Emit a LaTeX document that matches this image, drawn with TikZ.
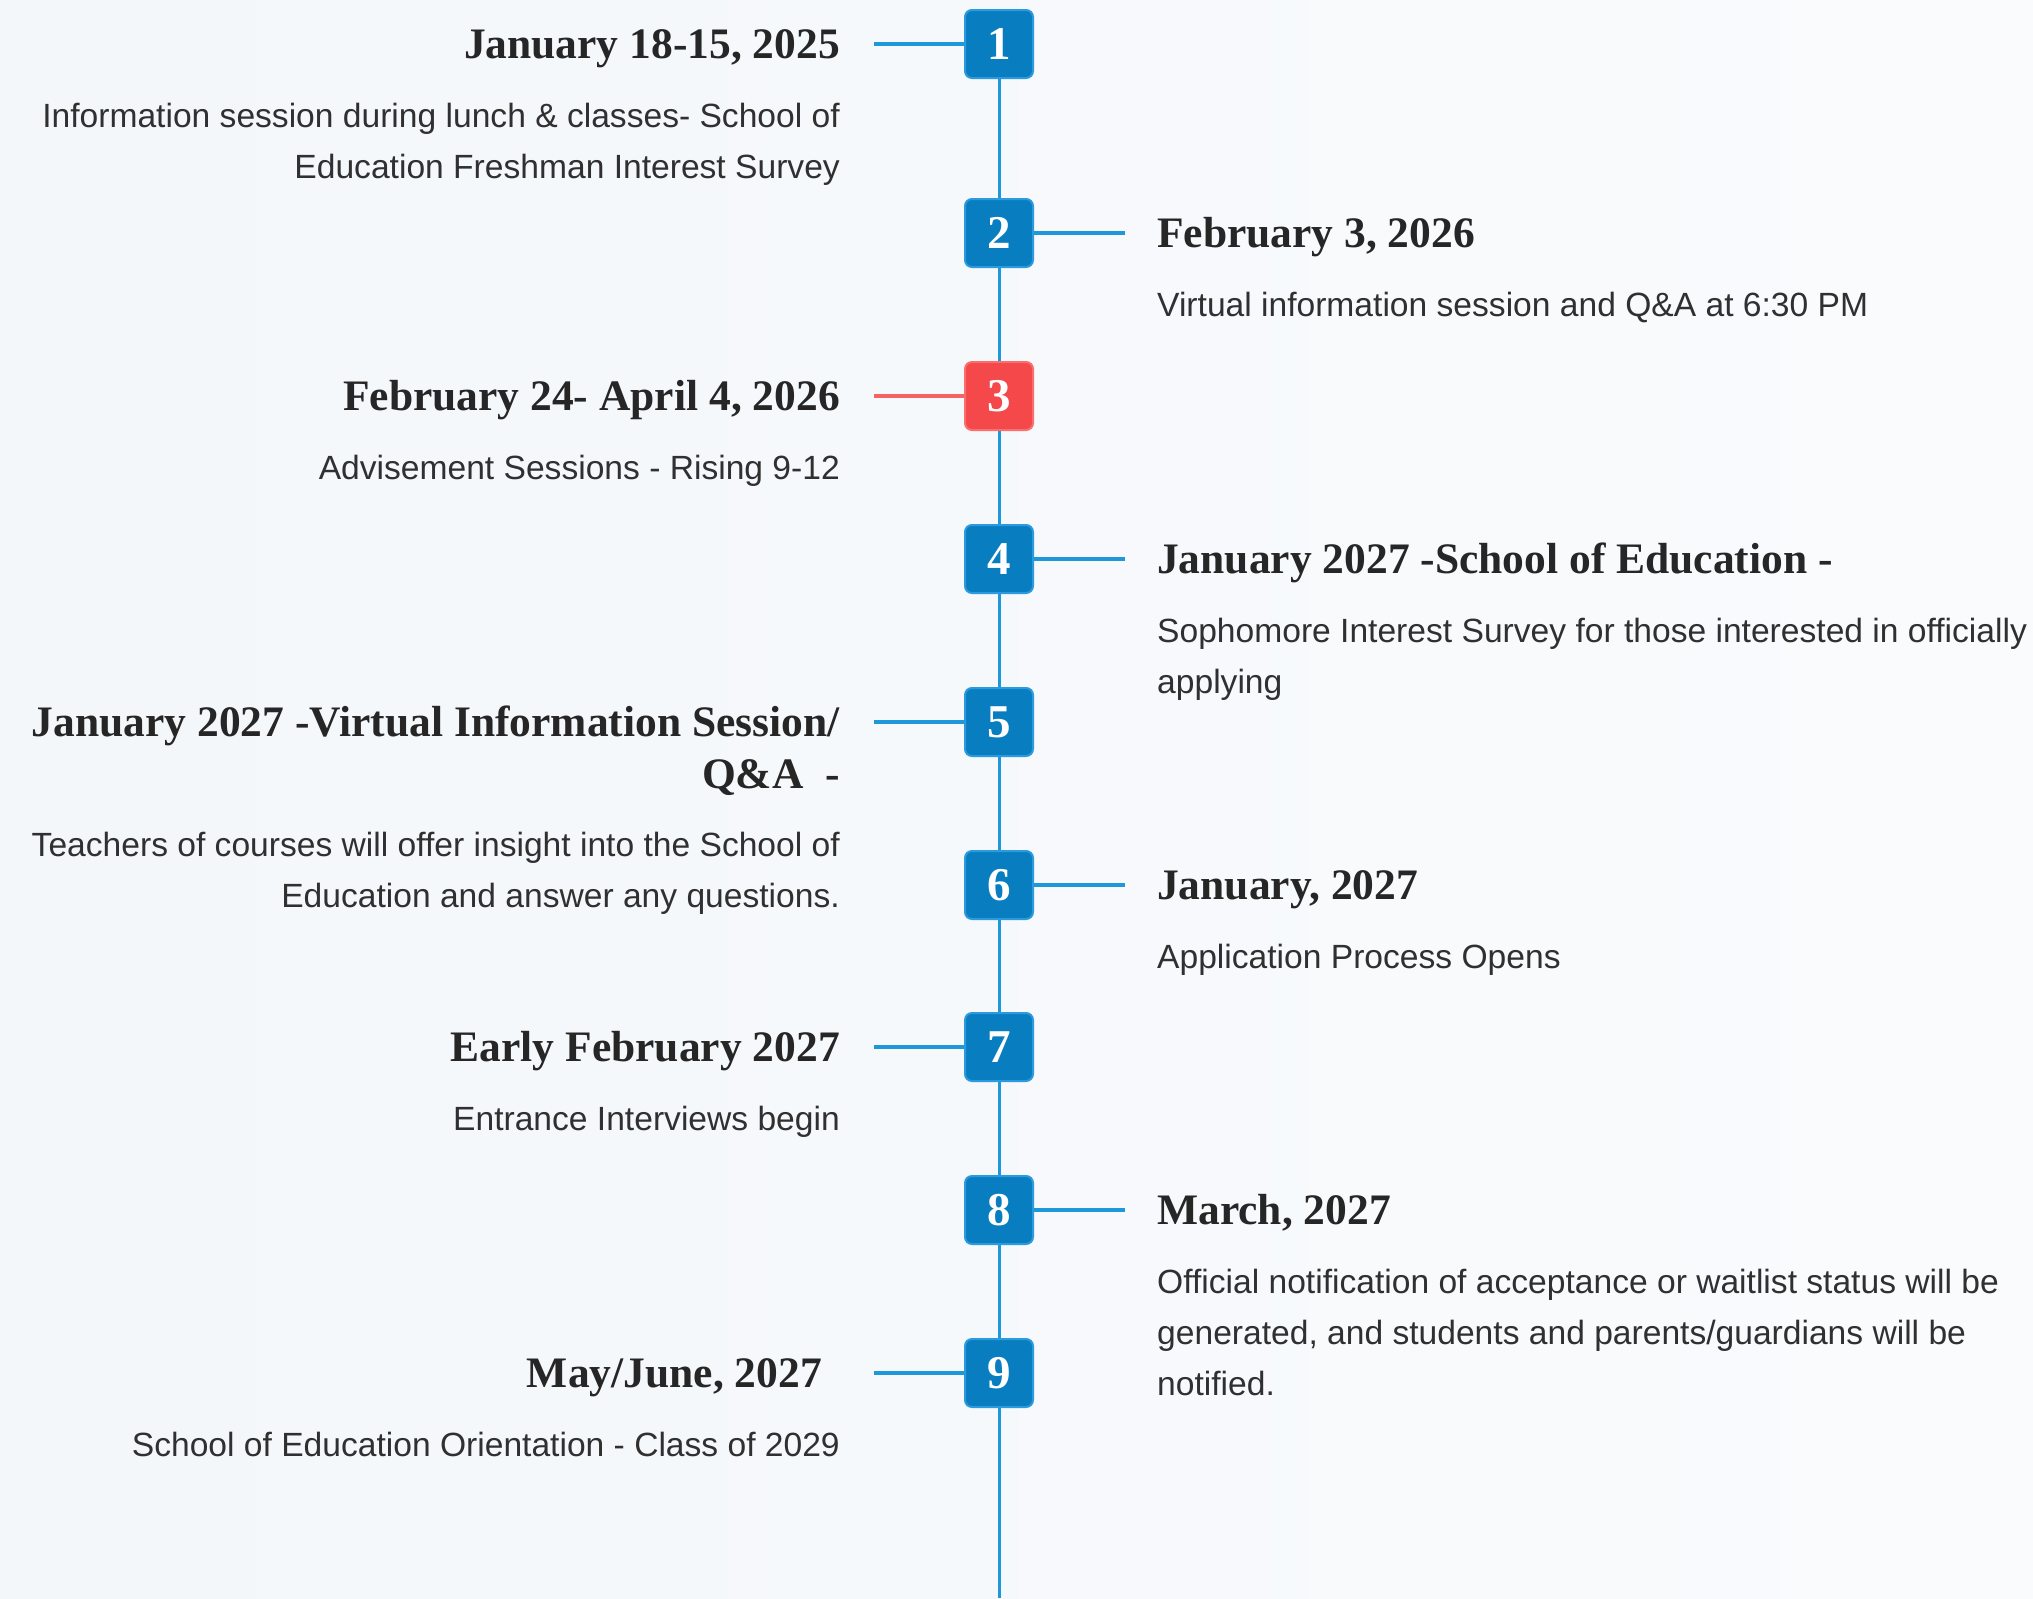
\documentclass[tikz,border=0pt]{standalone}
\usepackage{fontspec}
\setmainfont{Liberation Serif}
\newfontfamily\datafont{Liberation Serif}
\newfontfamily\textofont{Liberation Sans}
\usepackage{tikz}

\definecolor{azul}{RGB}{8,126,192}
\definecolor{azulborda}{RGB}{44,154,222}
\definecolor{linha}{RGB}{30,152,218}
\definecolor{vermelho}{RGB}{244,72,74}
\definecolor{vermelhoborda}{RGB}{250,110,110}
\definecolor{cinzatitulo}{RGB}{38,38,38}
\definecolor{cinzatexto}{RGB}{48,48,48}
\definecolor{fundoA}{RGB}{243,247,250}
\definecolor{fundoB}{RGB}{250,251,253}

\newcommand{\tstrut}{\rule{0pt}{35pt}}
\newcommand{\bstrut}{\rule{0pt}{27pt}}

\tikzset{
  stepbox/.style={rectangle, rounded corners=7pt, minimum size=68pt, inner sep=0pt,
    fill=azul, draw=azulborda, line width=2pt, text=white,
    font=\datafont\bfseries\fontsize{47}{47}\selectfont},
  redbox/.style={stepbox, fill=vermelho, draw=vermelhoborda},
  datetext/.style={inner sep=0pt, text=cinzatitulo,
    font=\datafont\bfseries\fontsize{43.5}{52}\selectfont},
  infotext/.style={inner sep=0pt, text=cinzatexto,
    font=\textofont\fontsize{33.6}{51}\selectfont},
  tick/.style={draw=linha, line width=3.5pt},
  redtick/.style={draw=vermelho!85, line width=3.5pt},
}

\begin{document}
\begin{tikzpicture}[x=1pt, y=-1pt]
    % Fundo
    \shade[left color=fundoA, right color=fundoB] (0,0) rectangle (2033,1598);
    \useasboundingbox (0,0) rectangle (2033,1598);

    % Marcos numerados
    \node[stepbox] (n1) at (999,44) {1};
    \node[stepbox] (n2) at (999,233) {2};
    \node[redbox]  (n3) at (999,396) {3};
    \node[stepbox] (n4) at (999,559) {4};
    \node[stepbox] (n5) at (999,722) {5};
    \node[stepbox] (n6) at (999,885) {6};
    \node[stepbox] (n7) at (999,1047) {7};
    \node[stepbox] (n8) at (999,1210) {8};
    \node[stepbox] (n9) at (999,1373) {9};
    \coordinate (fim) at (999,1598);

    % Linha do tempo
    \foreach \a/\b in {n1/n2, n2/n3, n3/n4, n4/n5, n5/n6, n6/n7, n7/n8, n8/n9, n9/fim}
        \draw[linha, line width=3pt] (\a.south) -- (\b.north);

    % Tracos ate os textos
    \coordinate (c1) at (874,44);   \draw[tick] (n1.west) -- (c1);
    \coordinate (c2) at (1125,233); \draw[tick] (n2.east) -- (c2);
    \coordinate (c3) at (874,396);  \draw[redtick] (n3.west) -- (c3);
    \coordinate (c4) at (1125,559); \draw[tick] (n4.east) -- (c4);
    \coordinate (c5) at (874,722);  \draw[tick] (n5.west) -- (c5);
    \coordinate (c6) at (1125,885); \draw[tick] (n6.east) -- (c6);
    \coordinate (c7) at (874,1047); \draw[tick] (n7.west) -- (c7);
    \coordinate (c8) at (1125,1210);\draw[tick] (n8.east) -- (c8);
    \coordinate (c9) at (874,1373); \draw[tick] (n9.west) -- (c9);

    % 1
    \node[datetext, anchor=north east, align=right] (d1) at (840,23) {\tstrut January 18-15, 2025};
    \node[infotext, anchor=north east, align=right] (i1) at (840,100) {\bstrut Information session during lunch \& classes- School of\\Education Freshman Interest Survey};
    % 2
    \node[datetext, anchor=north west, align=left] (d2) at (1157,212) {\tstrut February 3, 2026};
    \node[infotext, anchor=north west, align=left] (i2) at (1157,289) {\bstrut Virtual information session and Q\&A at 6:30 PM};
    % 3
    \node[datetext, anchor=north east, align=right] (d3) at (840,375) {\tstrut February 24- April 4, 2026};
    \node[infotext, anchor=north east, align=right] (i3) at (840,452) {\bstrut Advisement Sessions - Rising 9-12};
    % 4
    \node[datetext, anchor=north west, align=left] (d4) at (1157,538) {\tstrut January 2027 -School of Education -};
    \node[infotext, anchor=north west, align=left] (i4) at (1157,615) {\bstrut Sophomore Interest Survey for those interested in officially\\applying};
    % 5
    \node[datetext, anchor=north east, align=right] (d5) at (840,701) {\tstrut January 2027 -Virtual Information Session/\\Q\&A\ \ -\hspace{10pt}};
    \node[infotext, anchor=north east, align=right] (i5) at (840,829) {\bstrut Teachers of courses will offer insight into the School of\\Education and answer any questions.};
    % 6
    \node[datetext, anchor=north west, align=left] (d6) at (1157,864) {\tstrut January, 2027};
    \node[infotext, anchor=north west, align=left] (i6) at (1157,941) {\bstrut Application Process Opens};
    % 7
    \node[datetext, anchor=north east, align=right] (d7) at (840,1026) {\tstrut Early February 2027};
    \node[infotext, anchor=north east, align=right] (i7) at (840,1103) {\bstrut Entrance Interviews begin};
    % 8
    \node[datetext, anchor=north west, align=left] (d8) at (1157,1189) {\tstrut March, 2027};
    \node[infotext, anchor=north west, align=left] (i8) at (1157,1266) {\bstrut Official notification of acceptance or waitlist status will be\\generated, and students and parents/guardians will be\\notified.};
    % 9
    \node[datetext, anchor=north east, align=right] (d9) at (840,1352) {\tstrut May/June, 2027\hspace{18pt}};
    \node[infotext, anchor=north east, align=right] (i9) at (840,1429) {\bstrut School of Education Orientation - Class of 2029};
\end{tikzpicture}
\end{document}
